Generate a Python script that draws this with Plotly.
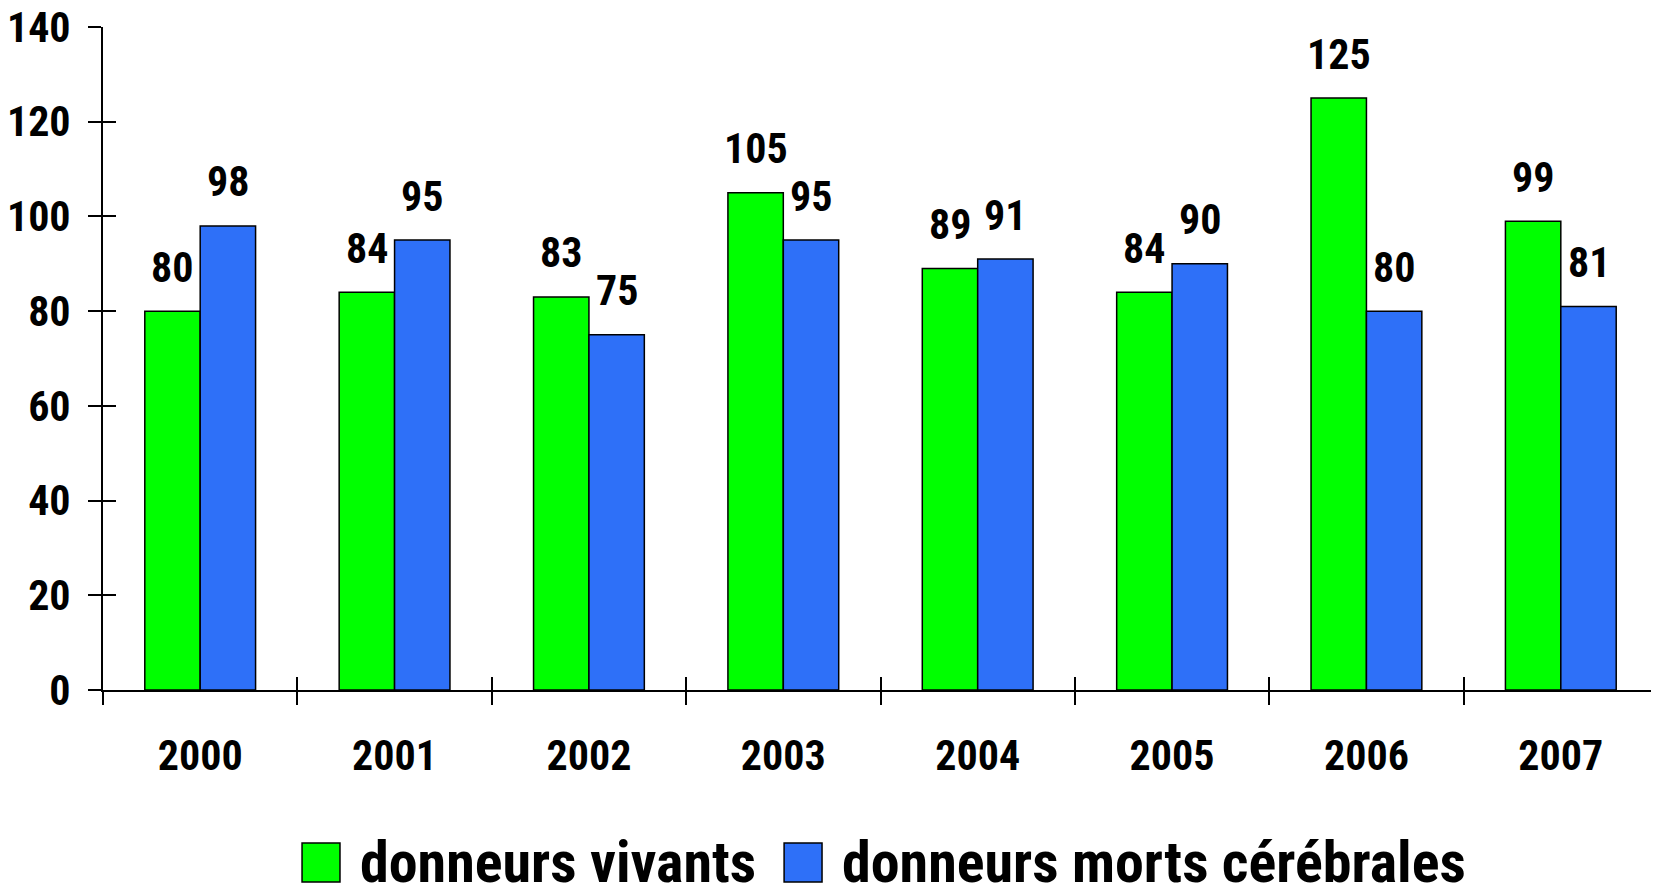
import plotly.graph_objects as go

years = ["2000", "2001", "2002", "2003", "2004", "2005", "2006", "2007"]
vivants = [80, 84, 83, 105, 89, 84, 125, 99]
morts = [98, 95, 75, 95, 91, 90, 80, 81]
series_names = ["donneurs vivants", "donneurs morts cérébrales"]
colors = ["#00FF00", "#2E70F8"]
y_ticks = [0, 20, 40, 60, 80, 100, 120, 140]

FONT = "Roboto Condensed, DejaVu Sans Condensed, sans-serif"
WEIGHT = "bold"
BARGAP = 0.43
# the page body adds an 8px offset, so the figure is 8px smaller
FIG_W, FIG_H = 1651, 880
M_L, M_R, M_T, M_B = 95, 1, 19, 198
PLOT_W = FIG_W - M_L - M_R

fig = go.Figure()
for name, vals, col in zip(series_names, [vivants, morts], colors):
    fig.add_trace(go.Bar(
        x=years, y=vals, name=name,
        marker=dict(color=col, line=dict(color="black", width=1.5)),
        showlegend=False, hoverinfo="x+y",
    ))

# value labels above each bar (x given as category index)
bar_px = PLOT_W / len(years) * (1 - BARGAP) / 2
for vals, sh in [(vivants, -bar_px / 2), (morts, bar_px / 2)]:
    for i, v in enumerate(vals):
        fig.add_annotation(x=i, y=v, xref="x", yref="y", text=str(v),
                           showarrow=False, xshift=sh, yshift=44,
                           yanchor="middle",
                           font=dict(family=FONT, size=42, color="black",
                                     weight=WEIGHT))

# legend drawn manually
legend_items = [
    (series_names[0], colors[0], 0.128, 0.1524, 0.164),
    (series_names[1], colors[1], 0.438, 0.4624, 0.474),
]
for name, col, x0, x1, xt in legend_items:
    fig.add_shape(type="rect", xref="paper", yref="paper", x0=x0, x1=x1,
                  y0=-0.2896, y1=-0.2308, fillcolor=col,
                  line=dict(color="black", width=1.5))
    fig.add_annotation(xref="paper", yref="paper", x=xt, y=-0.259,
                       xanchor="left", yanchor="middle", text=name,
                       showarrow=False,
                       font=dict(family=FONT, size=58, color="black",
                                 weight=WEIGHT))

# invisible trace on overlay axes to draw the inner half of the cross ticks
fig.add_trace(go.Scatter(x=years, y=[None] * len(years), xaxis="x2", yaxis="y2",
                         showlegend=False, hoverinfo="skip"))

common_x = dict(type="category", categoryorder="array", categoryarray=years,
                range=[-0.5, len(years) - 0.5], tickson="boundaries", ticklen=13,
                tickwidth=2, tickcolor="black", showgrid=False, zeroline=False,
                automargin=False)
common_y = dict(range=[0, 140], tickvals=y_ticks, ticklen=13, tickwidth=2,
                tickcolor="black", showgrid=False, zeroline=False, automargin=False)

fig.update_layout(
    width=FIG_W, height=FIG_H,
    margin=dict(l=M_L, r=M_R, t=M_T, b=M_B),
    paper_bgcolor="white", plot_bgcolor="white",
    barmode="group", bargap=BARGAP, bargroupgap=0,
    font=dict(family=FONT, size=42, color="black"),
    xaxis=dict(**common_x, ticks="outside", showline=True, linecolor="black",
               linewidth=2, tickfont=dict(family=FONT, size=42, weight=WEIGHT),
               ticklabelstandoff=28, ticklabeloverflow="allow"),
    yaxis=dict(**common_y, ticks="outside", showline=True, linecolor="black",
               linewidth=2, tickfont=dict(family=FONT, size=42, weight=WEIGHT),
               ticklabelstandoff=9, ticklabeloverflow="allow"),
    xaxis2=dict(**common_x, overlaying="x", ticks="inside", showticklabels=False,
                showline=False, side="bottom", anchor="y2"),
    yaxis2=dict(**common_y, overlaying="y", ticks="inside", showticklabels=False,
                showline=False, side="left", anchor="x2"),
)

fig.write_html("out.html")
